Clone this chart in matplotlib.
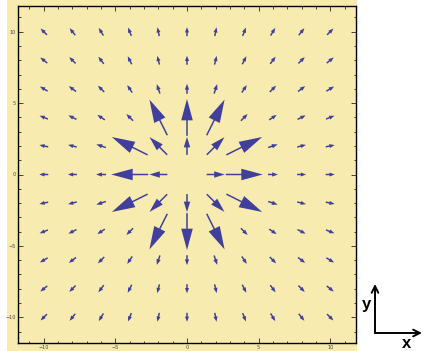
import numpy as np
import matplotlib
matplotlib.use("Agg")
import matplotlib.pyplot as plt
from matplotlib.patches import Rectangle, FancyArrowPatch

# grid of sample points
xs = [-10, -8, -6, -4, -2, 0, 2, 4, 6, 8, 10]
ys = [-10, -8, -6, -4, -2, 0, 2, 4, 6, 8, 10]

# arrow length (pixels) by squared distance from origin
ring_r2 = [4, 8, 16, 20, 32, 36, 40]
ring_len_px = [18, 25, 37, 40, 9.5, 10, 10]
outer_len_px = 9

tick_vals = [-10, -5, 0, 5, 10]
tick_labels = ["\u221210", "\u22125", "0", "5", "10"]

W, H = 423, 351
fig = plt.figure(figsize=(W / 100, H / 100), dpi=100)
fig.patch.set_facecolor("white")
bg = "#F8EBB0"
fig.add_artist(Rectangle((7 / W, 0), 350 / W, 1, transform=fig.transFigure,
                         facecolor=bg, edgecolor="none", zorder=-10))

ax = fig.add_axes([18 / W, 8 / H, 338 / W, 337 / H])
ax.set_zorder(1)
ax.set_facecolor(bg)
lim = 11.8
ax.set_xlim(-lim, lim)
ax.set_ylim(-lim, lim)

px = (2 * lim) / 338.0  # data units per pixel
col = "#403F9B"
lookup = dict(zip(ring_r2, ring_len_px))
for x in xs:
    for y in ys:
        r2 = x * x + y * y
        if r2 == 0:
            continue
        L = lookup.get(r2, outer_len_px) * px
        r = np.sqrt(r2)
        ux, uy = x / r, y / r
        sx, sy = x - ux * L / 2, y - uy * L / 2
        hl = 0.58 * L
        hw = 0.27 * L + 1.6 * px
        ax.arrow(sx, sy, ux * L, uy * L, width=1.5 * px, head_width=hw,
                 head_length=hl, length_includes_head=True,
                 facecolor=col, edgecolor="none", zorder=3)

ax.set_xticks(tick_vals)
ax.set_yticks(tick_vals)
ax.set_xticklabels(tick_labels)
ax.set_yticklabels(tick_labels)
ax.set_xticks(np.arange(-11, 12, 1), minor=True)
ax.set_yticks(np.arange(-11, 12, 1), minor=True)
ax.tick_params(which="both", direction="in", top=True, right=True,
               labelsize=3.5, labelcolor="#444444", width=0.5, pad=1.5)
ax.tick_params(which="major", length=3.5)
ax.tick_params(which="minor", length=1.8)
for s in ax.spines.values():
    s.set_linewidth(1.0)

# x-y orientation glyph
corner = (375 / W, 1 - 333 / H)
ap = dict(arrowstyle="->", color="black", lw=1.4, mutation_scale=12,
          shrinkA=0, shrinkB=0)
fig.add_artist(FancyArrowPatch(corner, (375 / W, 1 - 284 / H),
                               transform=fig.transFigure, **ap))
fig.add_artist(FancyArrowPatch(corner, (422 / W, 1 - 333 / H),
                               transform=fig.transFigure, **ap))
fig.text(366 / W, 1 - 305 / H, "y", fontsize=12, fontweight="bold",
         family="Liberation Sans", ha="center", va="center")
fig.text(407 / W, 1 - 344 / H, "x", fontsize=12, fontweight="bold",
         family="Liberation Sans", ha="center", va="center")

fig.savefig("out.png", dpi=100, facecolor="white")
